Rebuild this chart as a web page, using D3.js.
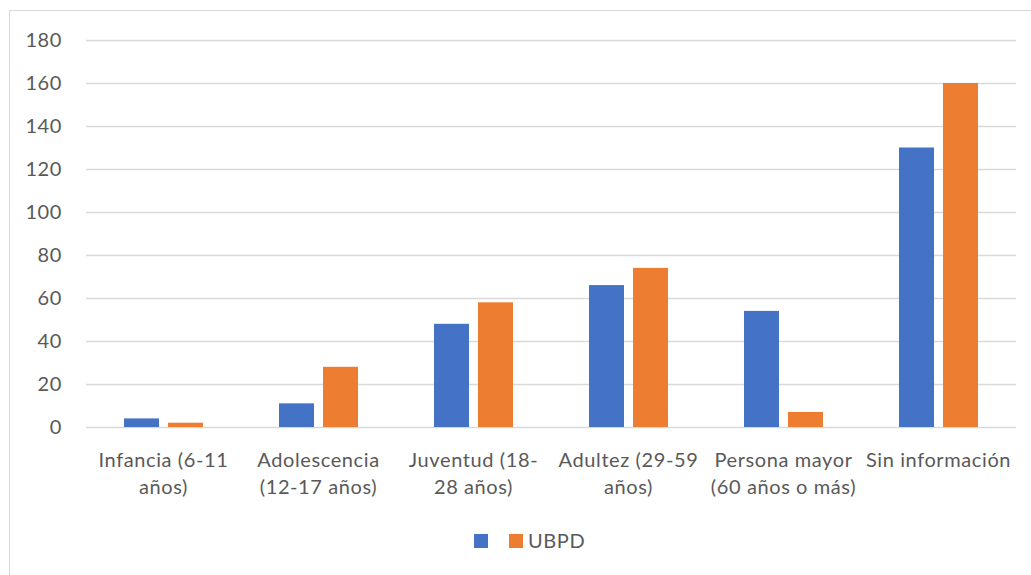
<!DOCTYPE html>
<html>
<head>
<meta charset="utf-8">
<script src="https://cdn.jsdelivr.net/npm/d3@7"></script>
<style>
  body { margin: 0; background: #fff; }
  text { font-family: Lato, "Open Sans", sans-serif; fill: #595959; letter-spacing: 0.6px; }
</style>
</head>
<body>
<div id="chart"></div>
<script>
// data
var categories = [
    ["Infancia (6-11", "años)"],
    ["Adolescencia", "(12-17 años)"],
    ["Juventud (18-", "28 años)"],
    ["Adultez (29-59", "años)"],
    ["Persona mayor", "(60 años o más)"],
    ["Sin información"]
];
var seriesNames = ["", "UBPD"];
var seriesBlue = [4, 11, 48, 66, 54, 130];
var seriesOrange = [2, 28, 58, 74, 7, 160];
var yTicks = [0, 20, 40, 60, 80, 100, 120, 140, 160, 180];
var colors = ["#4472c4", "#ed7d31"];

const width = 1031;
const height = 575;
const margin = {left: 86, right: 15, top: 40, bottom: 148};

const svg = d3.select("#chart")
    .append("svg")
    .attr("width", width)
    .attr("height", height);

// chart area border
svg.append("rect")
    .attr("x", 9.5)
    .attr("y", 10.5)
    .attr("width", width + 20)
    .attr("height", height + 20)
    .attr("fill", "none")
    .attr("stroke", "#d9d9d9");

var x = d3.scaleBand()
    .domain(d3.range(categories.length))
    .range([margin.left, width - margin.right]);

var y = d3.scaleLinear()
    .domain([0, 180])
    .range([height - margin.bottom, margin.top]);

// gridlines
svg.append("g")
    .selectAll("line")
    .data(yTicks)
    .enter()
    .append("line")
    .attr("x1", margin.left)
    .attr("x2", width - margin.right)
    .attr("y1", function(d) { return Math.round(y(d)) + 0.5; })
    .attr("y2", function(d) { return Math.round(y(d)) + 0.5; })
    .style("stroke", "#d9d9d9")
    .style("stroke-width", 1.5);

// y labels
svg.append("g")
    .selectAll("text")
    .data(yTicks)
    .enter()
    .append("text")
    .attr("x", 62)
    .attr("y", function(d) { return y(d) + 7; })
    .attr("text-anchor", "end")
    .style("font-size", "20px")
    .text(function(d) { return d; });

// bars
var barW = 35, gap = 9;
var series = [seriesBlue, seriesOrange];
series.forEach(function(vals, s) {
    svg.append("g")
        .selectAll("rect")
        .data(vals)
        .enter()
        .append("rect")
        .attr("x", function(d, i) {
            var c = x(i) + x.bandwidth() / 2;
            return s == 0 ? c - gap / 2 - barW : c + gap / 2;
        })
        .attr("y", function(d) { return y(d); })
        .attr("width", barW)
        .attr("height", function(d) { return y(0) - y(d); })
        .attr("fill", colors[s]);
});

// x labels
var xl = svg.append("g")
    .selectAll("text")
    .data(categories)
    .enter()
    .append("text")
    .attr("text-anchor", "middle")
    .style("font-size", "20px")
    .attr("x", function(d, i) { return x(i) + x.bandwidth() / 2; })
    .attr("y", 467);

xl.selectAll("tspan")
    .data(function(d) { return d; })
    .enter()
    .append("tspan")
    .attr("x", function() { return d3.select(this.parentNode).attr("x"); })
    .attr("dy", function(d, i) { return i == 0 ? 0 : 27; })
    .text(function(d) { return d; });

// legend
var legend = svg.append("g");
var legendX = [474, 509];
seriesNames.forEach(function(n, s) {
    legend.append("rect")
        .attr("x", legendX[s])
        .attr("y", 534)
        .attr("width", 14)
        .attr("height", 14)
        .attr("fill", colors[s]);
    legend.append("text")
        .attr("x", legendX[s] + 19)
        .attr("y", 548)
        .style("font-size", "20px")
        .text(n);
});
</script>
</body>
</html>
